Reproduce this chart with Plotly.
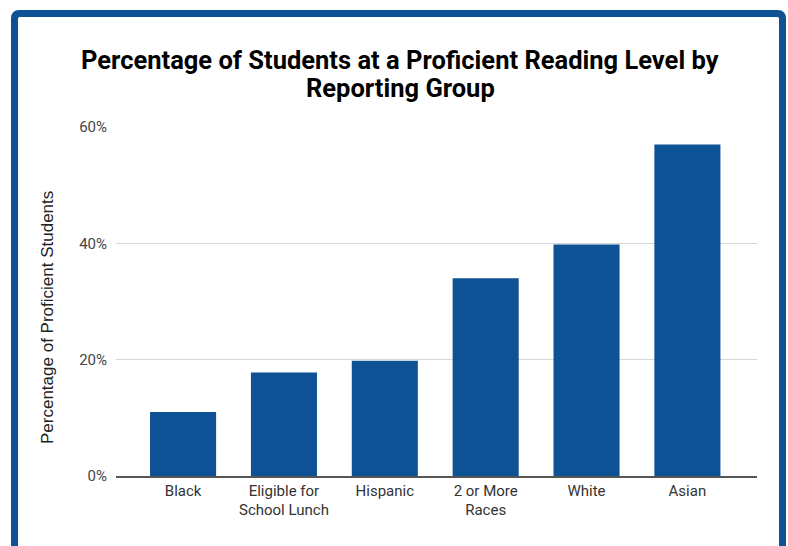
import plotly.graph_objects as go

categories = ["Black", "Eligible for<br>School Lunch", "Hispanic", "2 or More<br>Races", "White", "Asian"]
values = [0.11, 0.178, 0.198, 0.34, 0.398, 0.57]
tick_vals = [0, 0.2, 0.4, 0.6]
tick_text = ["0%", "20%", "40%", "60%"]
title_lines = ["Percentage of Students at a Proficient Reading Level by", "Reporting Group"]

W, H = 788, 546
ML, MR, MT, MB = 116, 31, 127, 70
PW = W - ML - MR
PH = H - MT - MB

def px_x(p):
    return (p - ML) / PW

def px_y(p):
    return (H - MB - p) / PH

fig = go.Figure(go.Bar(
    x=categories, y=values,
    marker=dict(color="#0D5295", line=dict(width=0)),
    hoverinfo="skip",
))

# border frame (rounded rect)
x0, x1 = px_x(14.5), px_x(782.5)
y0, y1 = px_y(13.5), px_y(560)
rx = 5 / PW
ry = 5 / PH
path = (f"M {x0+rx},{y0} L {x1-rx},{y0} Q {x1},{y0} {x1},{y0-ry} "
        f"L {x1},{y1} L {x0},{y1} L {x0},{y0-ry} Q {x0},{y0} {x0+rx},{y0} Z")
fig.add_shape(type="path", path=path, xref="paper", yref="paper",
              line=dict(color="#0D5295", width=7), layer="above")

for line, cy in zip(title_lines, [60, 88]):
    fig.add_annotation(text=f"<b>{line}</b>", xref="paper", yref="paper",
                       x=px_x(400), y=px_y(cy), showarrow=False,
                       font=dict(family="Roboto", size=25.5, color="#000"),
                       xanchor="center", yanchor="middle")

fig.add_annotation(text="Percentage of Proficient Students", xref="paper", yref="paper",
                   x=px_x(47), y=px_y(318), textangle=-90, showarrow=False,
                   font=dict(family="Liberation Sans, Arial", size=17, color="#222"),
                   xanchor="center", yanchor="middle")

fig.update_layout(
    width=W, height=H,
    margin=dict(l=ML, r=MR, t=MT, b=MB),
    paper_bgcolor="white", plot_bgcolor="white",
    showlegend=False,
    bargap=0.345,
    xaxis=dict(tickfont=dict(family="Roboto", size=15, color="#333"),
               showline=True, linecolor="#555", linewidth=1.5,
               ticks="", showgrid=False, range=[-0.665, 5.69]),
    yaxis=dict(range=[0, 0.6], tickvals=tick_vals, ticktext=tick_text,
               tickfont=dict(family="Roboto", size=15, color="#444"),
               gridcolor="#d6d6d6", gridwidth=1, zeroline=False,
               showline=False, ticks="", ticklabelstandoff=8),
)

fig.write_html("out.html")
